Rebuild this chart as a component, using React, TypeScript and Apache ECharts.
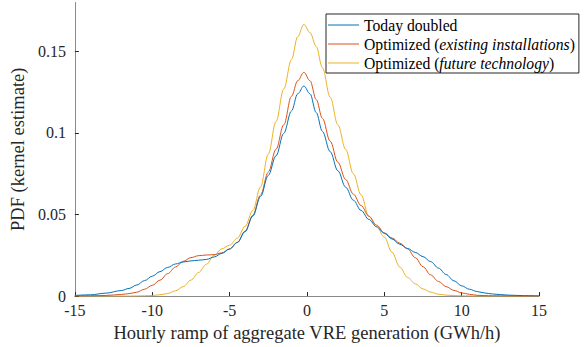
import React, { useEffect, useRef } from "react";
import * as echarts from "echarts";

const xValues = [-15, -14, -13, -12, -11.5, -11, -10.5, -10, -9.5, -9, -8.5, -8, -7.5, -7, -6.5, -6, -5.5, -5, -4.5, -4, -3.5, -3, -2.5, -2, -1.5, -1, -0.6, -0.2, 0.2, 0.6, 1, 1.5, 2, 2.5, 3, 3.5, 4, 4.5, 5, 5.5, 6, 6.5, 7, 7.5, 8, 8.5, 9, 9.5, 10, 10.5, 11, 11.5, 12, 13, 14, 15];

const todayDoubled = [0.0004, 0.0008, 0.0018, 0.0034, 0.0047, 0.0068, 0.0095, 0.0122, 0.015, 0.0176, 0.0197, 0.0209, 0.0216, 0.022, 0.0225, 0.024, 0.0262, 0.0288, 0.0328, 0.0395, 0.049, 0.061, 0.074, 0.086, 0.0998, 0.1135, 0.124, 0.1288, 0.124, 0.1125, 0.101, 0.0886, 0.0768, 0.0668, 0.0588, 0.0525, 0.047, 0.0425, 0.0385, 0.035, 0.0318, 0.0292, 0.0268, 0.0242, 0.0211, 0.0172, 0.0132, 0.0094, 0.0063, 0.0042, 0.0028, 0.0019, 0.0013, 0.0006, 0.0003, 0.0001];

const optimizedExisting = [0.0001, 0.0002, 0.0004, 0.001, 0.0015, 0.0024, 0.0042, 0.0066, 0.0098, 0.0138, 0.0178, 0.0213, 0.0236, 0.0248, 0.0252, 0.0254, 0.0265, 0.029, 0.033, 0.0398, 0.0495, 0.062, 0.076, 0.09, 0.105, 0.1225, 0.132, 0.1372, 0.132, 0.1205, 0.109, 0.095, 0.082, 0.0715, 0.0625, 0.0555, 0.049, 0.0435, 0.0388, 0.0356, 0.0325, 0.029, 0.0236, 0.018, 0.013, 0.009, 0.0058, 0.0035, 0.002, 0.0011, 0.0005, 0.0003, 0.0002, 0.0001, 0, 0];

const optimizedFuture = [0, 0, 0, 0, 0, 0.0001, 0.0002, 0.0004, 0.0008, 0.0016, 0.0032, 0.0058, 0.0098, 0.0145, 0.0195, 0.025, 0.029, 0.0312, 0.0355, 0.0428, 0.0525, 0.067, 0.087, 0.107, 0.127, 0.145, 0.159, 0.1666, 0.1615, 0.153, 0.14, 0.122, 0.105, 0.09, 0.075, 0.062, 0.049, 0.0425, 0.0362, 0.0268, 0.0178, 0.0115, 0.0076, 0.0044, 0.0024, 0.0012, 0.0006, 0.0003, 0.0002, 0.0001, 0, 0, 0, 0, 0, 0];

const seriesNames = ["Today doubled", "Optimized (existing installations)", "Optimized (future technology)"];
const seriesColors = ["#0072BD", "#D95319", "#EDB120"];
const xTicks = [-15, -10, -5, 0, 5, 10, 15];
const yTicks = [0, 0.05, 0.1, 0.15];

const FONT = "Liberation Serif";
const TEXT = "#262626";
const AXIS = "#8a8a8a";

export default function App() {
  const ref = useRef<HTMLDivElement>(null);
  useEffect(() => {
    if (!ref.current) return;
    const chart = echarts.init(ref.current, undefined, { renderer: "svg" });
    const seriesData = [todayDoubled, optimizedExisting, optimizedFuture];
    chart.setOption({
      animation: false,
      backgroundColor: "#ffffff",
      textStyle: { fontFamily: FONT },
      grid: { left: 72, right: 46, top: 2.5, bottom: 50.5, containLabel: false },
      legend: {
        left: 326,
        top: 14,
        orient: "vertical",
        icon: "path://M0,0 H31 V1 H0 Z",
        itemWidth: 31,
        itemHeight: 14,
        itemGap: 1,
        padding: [2, 4, 1, 2],
        borderColor: "#262626",
        borderWidth: 1,
        backgroundColor: "#ffffff",
        selectedMode: false,
        data: seriesNames,
        formatter: (name: string) => name.replace(/\((.*)\)/, "({i|$1})"),
        textStyle: {
          fontFamily: FONT,
          fontSize: 15.7,
          lineHeight: 18,
          color: "#000",
          rich: { i: { fontFamily: FONT, fontSize: 15.7, lineHeight: 18, fontStyle: "italic", color: "#000" } },
        },
      },
      xAxis: {
        type: "value",
        min: -15,
        max: 15,
        interval: 5,
        name: "Hourly ramp of aggregate VRE generation (GWh/h)",
        nameLocation: "middle",
        nameGap: 20,
        nameTextStyle: { fontFamily: FONT, fontSize: 18.5, color: TEXT },
        axisLine: { show: true, onZero: false, lineStyle: { color: AXIS, width: 1 } },
        axisTick: { show: true, inside: true, length: 4, lineStyle: { color: TEXT }, customValues: xTicks },
        axisLabel: { fontFamily: FONT, fontSize: 16, color: TEXT, margin: 6, customValues: xTicks },
        splitLine: { show: false },
      },
      yAxis: {
        type: "value",
        min: 0,
        max: 0.18,
        interval: 0.05,
        name: "PDF (kernel estimate)",
        nameLocation: "middle",
        nameRotate: 90,
        nameGap: 37,
        nameTextStyle: { fontFamily: FONT, fontSize: 18.5, color: TEXT },
        axisLine: { show: true, onZero: false, lineStyle: { color: AXIS, width: 1 } },
        axisTick: { show: true, inside: true, length: 4, lineStyle: { color: TEXT }, customValues: yTicks },
        axisLabel: { fontFamily: FONT, fontSize: 16, color: TEXT, margin: 9, customValues: yTicks },
        splitLine: { show: false },
      },
      series: seriesNames.map((name, i) => ({
        name,
        type: "line",
        data: xValues.map((x, j) => [x, seriesData[i][j]]),
        smooth: 0.35,
        smoothMonotone: "x",
        symbol: "none",
        lineStyle: { color: seriesColors[i], width: 1 },
        itemStyle: { color: seriesColors[i] },
        z: 3 - i,
      })),
    });
    return () => chart.dispose();
  }, []);
  return <div ref={ref} style={{ width: 585, height: 347, position: "absolute", left: 0, top: 0 }} />;
}
